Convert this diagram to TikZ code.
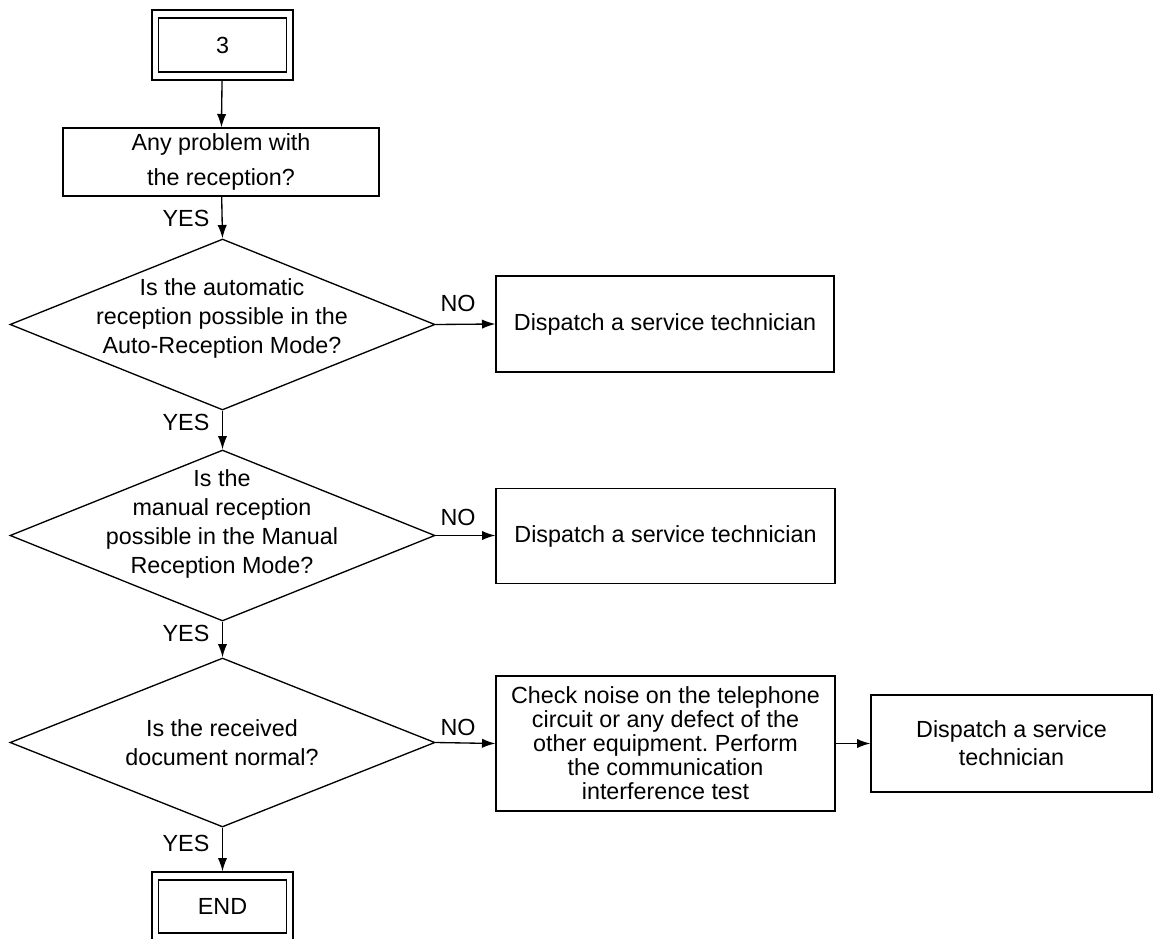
\documentclass[tikz,border=0pt]{standalone}
\usepackage{fontspec}
\setmainfont{Liberation Sans}
\usetikzlibrary{shapes.geometric,arrows.meta}
\frenchspacing
\begin{document}
\begin{tikzpicture}[x=0.75pt,y=-0.75pt,
  line width=1pt,
  every node/.style={font=\fontsize{17.5}{21.75}\selectfont},
  sz/.style 2 args={minimum width=#1*0.75pt, minimum height=#2*0.75pt},
  box/.style={draw, rectangle, inner sep=0pt, align=center},
  dia/.style={draw, diamond, inner sep=0pt},
  lbl/.style={align=center, inner sep=0pt},
  arr/.style={-{Latex[length=10pt,width=7pt]}}]
\clip (0,0) rectangle (1154,939);
% start terminal
\node[box, sz={141}{70}] (t0) at (222.5,45) {};
\node[box, sz={128}{54}] (t0i) at (222.5,45) {3};
% first question box
\node[box, sz={316}{68}, font=\fontsize{17.5}{26}\selectfont] (b1) at (221,162) {Any problem with\\the reception?};
% diamonds
\node[dia, sz={425}{171}] (d1) at (222.5,324.5) {};
\node[lbl] (d1t) at (222,318.5) {Is the automatic\\reception possible in the\\Auto-Reception Mode?};
\node[dia, sz={425}{171}] (d2) at (222.5,535.5) {};
\node[lbl] (d2t) at (222,524) {Is the\\manual reception\\possible in the Manual\\Reception Mode?};
\node[dia, sz={425}{169}] (d3) at (222.5,742.5) {};
\node[lbl] (d3t) at (222,743) {Is the received\\document normal?};
% action boxes
\node[box, sz={338}{96}] (r1) at (665,324) {Dispatch a service technician};
\node[box, sz={339}{95}] (r2) at (665.5,536) {Dispatch a service technician};
\node[box, sz={339}{135}, font=\fontsize{17.5}{18}\selectfont] (r3) at (665.5,743.5) {Check noise on the telephone\\circuit or any defect of the\\other equipment. Perform\\the communication\\interference test};
\node[box, sz={281}{97}, font=\fontsize{17.5}{21}\selectfont] (r4) at (1011.5,743.5) {Dispatch a service\\technician};
% end terminal
\node[box, sz={141}{69}] (e0) at (222.5,906.5) {};
\node[box, sz={128}{53}] (e0i) at (222.5,906.5) {END};
% connectors
\draw[arr] (t0) -- (b1);
\draw[arr] (b1) -- (d1.north);
\draw[arr] (d1.east) -- (r1.west);
\draw[arr] (d1.south) -- (d2.north);
\draw[arr] (d2.east) -- (d2.east -| r2.west);
\draw[arr] (d2.south) -- (d3.north);
\draw[arr] (d3.east) -- (r3.west);
\draw[arr] (r3.east) -- (r4.west);
\draw[arr] (d3.south) -- (e0.north);
% labels
\node[lbl] (y1) at (186,218) {YES};
\node[lbl] (y2) at (186,422) {YES};
\node[lbl] (y3) at (186,633) {YES};
\node[lbl] (y4) at (186,843) {YES};
\node[lbl] (n1) at (458,303) {NO};
\node[lbl] (n2) at (458,517) {NO};
\node[lbl] (n3) at (458,727) {NO};
\end{tikzpicture}
\end{document}
